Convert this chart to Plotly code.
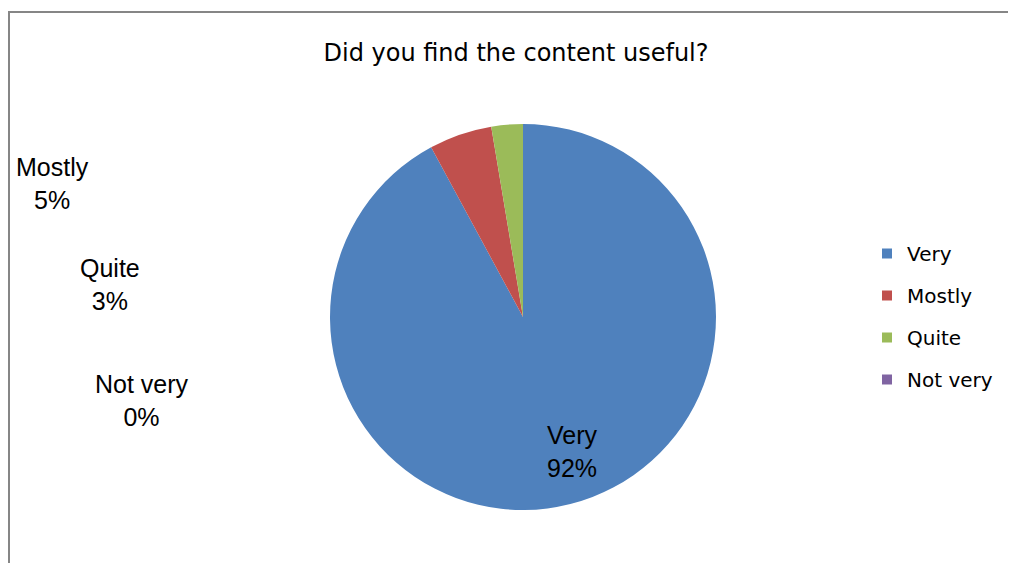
import plotly.graph_objects as go

categories = ["Very", "Mostly", "Quite", "Not very"]
responses = [35, 2, 1, 0]
colors = ["#4F81BD", "#C0504D", "#9BBB59", "#8064A2"]

W, H = 1016, 563
OX, OY = 8, 7  # page offset of the plot inside the browser window


def px(x):
    return (x - OX) / W


def py(y):
    return 1 - (y - OY) / H


# screen-pixel anchor positions for the outside data labels
label_pos = {
    "Very": (572, 450),
    "Mostly": (52, 182),
    "Quite": (110, 284),
    "Not very": (142, 399),
}

total = sum(responses)
percents = [round(v / total * 100) for v in responses]

fig = go.Figure()
fig.add_trace(go.Pie(
    labels=categories,
    values=responses,
    sort=False,
    direction="clockwise",
    rotation=0,
    marker=dict(colors=colors, line=dict(width=0)),
    textinfo="none",
    hoverinfo="label+percent",
    showlegend=False,
    domain=dict(x=[px(330), px(716)], y=[py(509), py(123)]),
))

# legend entries
for i, (c, col) in enumerate(zip(categories, colors)):
    fig.add_trace(go.Scatter(
        x=[None], y=[None], mode="markers", name=c,
        marker=dict(symbol="square", size=10, color=col),
        legendgroup=f"g{i}", showlegend=True, hoverinfo="skip",
    ))

for c, p in zip(categories, percents):
    ax, ay = label_pos[c]
    fig.add_annotation(
        x=px(ax), y=py(ay), xref="paper", yref="paper",
        text=f"{c}<br>{p}%", showarrow=False,
        xanchor="center", yanchor="middle", align="center",
        font=dict(family="Liberation Sans", size=25, color="#000000"),
    )

fig.add_shape(type="rect", xref="paper", yref="paper",
              x0=1 / W, x1=1.05, y0=-0.05, y1=py(11),
              line=dict(color="#868686", width=2), fillcolor="rgba(0,0,0,0)")

fig.update_layout(
    width=W, height=H,
    margin=dict(l=0, r=0, t=0, b=0),
    paper_bgcolor="white", plot_bgcolor="white",
    title=dict(text="Did you find the content useful?", x=px(516), xanchor="center",
               y=py(52), yanchor="middle",
               font=dict(family="DejaVu Sans", size=24, color="#000000")),
    xaxis=dict(visible=False), yaxis=dict(visible=False),
    legend=dict(x=px(867), xanchor="left", y=py(233), yanchor="top",
                traceorder="grouped", tracegroupgap=13, itemwidth=30,
                font=dict(family="DejaVu Sans", size=20, color="#000000"),
                bgcolor="rgba(0,0,0,0)"),
)

fig.write_html("out.html")
